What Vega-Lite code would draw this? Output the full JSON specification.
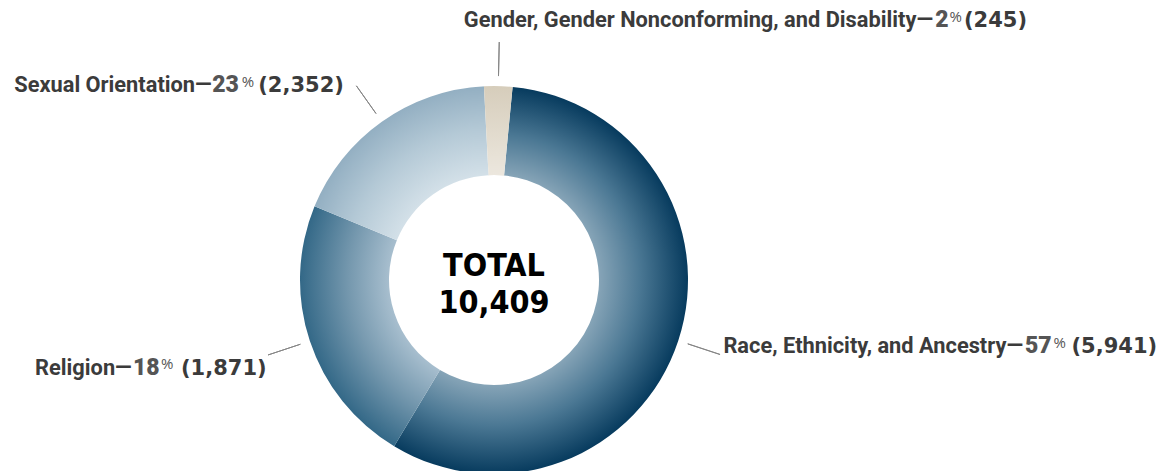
{
  "$schema": "https://vega.github.io/schema/vega-lite/v6.json",
  "width": 988,
  "height": 382,
  "autosize": {"type": "none"},
  "padding": {"left": 0, "top": 89, "right": 169, "bottom": 0},
  "background": "white",
  "config": {"view": {"stroke": null}},
  "data": {"values": [
    {"category": "Race, Ethnicity, and Ancestry", "count": 5941, "percent": 57},
    {"category": "Sexual Orientation", "count": 2352, "percent": 23},
    {"category": "Religion", "count": 1871, "percent": 18},
    {"category": "Gender, Gender Nonconforming, and Disability", "count": 245, "percent": 2}
  ]},
  "layer": [
    {
      "transform": [
        {"stack": "count", "groupby": [], "sort": [{"field": "count", "order": "descending"}], "offset": "normalize", "as": ["t0", "t1"]},
        {"filter": "datum.category === 'Race, Ethnicity, and Ancestry'"}
      ],
      "mark": {"type": "arc", "outerRadius": 194, "innerRadius": 105,
        "fill": {"gradient": "radial", "x1": 0.3783, "y1": 0.4988, "r1": 0, "x2": 0.3783, "y2": 0.4988, "r2": 0.5012,
          "stops": [{"offset": 0.541, "color": "#86a4b7"}, {"offset": 0.75, "color": "#4b7894"}, {"offset": 1, "color": "#073b5e"}]}},
      "encoding": {
        "theta": {"field": "t0", "type": "quantitative", "scale": {"domain": [0, 1], "range": [0.096, 6.379185]}},
        "theta2": {"field": "t1"}
      }
    },
    {
      "transform": [
        {"stack": "count", "groupby": [], "sort": [{"field": "count", "order": "descending"}], "offset": "normalize", "as": ["t0", "t1"]},
        {"filter": "datum.category === 'Sexual Orientation'"}
      ],
      "mark": {"type": "arc", "outerRadius": 194, "innerRadius": 105,
        "fill": {"gradient": "radial", "x1": 1.0167, "y1": 0.3071, "r1": 0, "x2": 1.0167, "y2": 0.3071, "r2": 0.8083,
          "stops": [{"offset": 0.541, "color": "#a7bece"}, {"offset": 0.75, "color": "#7598ae"}, {"offset": 1, "color": "#336887"}]}},
      "encoding": {
        "theta": {"field": "t0", "type": "quantitative", "scale": {"domain": [0, 1], "range": [0.096, 6.379185]}},
        "theta2": {"field": "t1"}
      }
    },
    {
      "transform": [
        {"stack": "count", "groupby": [], "sort": [{"field": "count", "order": "descending"}], "offset": "normalize", "as": ["t0", "t1"]},
        {"filter": "datum.category === 'Religion'"}
      ],
      "mark": {"type": "arc", "outerRadius": 194, "innerRadius": 105,
        "fill": {"gradient": "radial", "x1": 1.0313, "y1": 1.1711, "r1": 0, "x2": 1.0313, "y2": 1.1711, "r2": 1.1146,
          "stops": [{"offset": 0.541, "color": "#d3e0e8"}, {"offset": 0.78, "color": "#b4c9d6"}, {"offset": 1, "color": "#93afc2"}]}},
      "encoding": {
        "theta": {"field": "t0", "type": "quantitative", "scale": {"domain": [0, 1], "range": [0.096, 6.379185]}},
        "theta2": {"field": "t1"}
      }
    },
    {
      "transform": [
        {"stack": "count", "groupby": [], "sort": [{"field": "count", "order": "descending"}], "offset": "normalize", "as": ["t0", "t1"]},
        {"filter": "datum.category === 'Gender, Gender Nonconforming, and Disability'"}
      ],
      "mark": {"type": "arc", "outerRadius": 194, "innerRadius": 105,
        "fill": {"gradient": "radial", "x1": 0.4522, "y1": 2.1676, "r1": 0, "x2": 0.4522, "y2": 2.1676, "r2": 2.1676,
          "stops": [{"offset": 0.541, "color": "#ece7de"}, {"offset": 1, "color": "#d6cdbb"}]}},
      "encoding": {
        "theta": {"field": "t0", "type": "quantitative", "scale": {"domain": [0, 1], "range": [0.096, 6.379185]}},
        "theta2": {"field": "t1"}
      }
    },
    {
      "transform": [
        {"stack": "count", "groupby": [], "sort": [{"field": "count", "order": "descending"}], "offset": "normalize", "as": ["t0", "t1"]},
        {"calculate": "(datum.t0 + datum.t1) / 2", "as": "tm"}
      ],
      "mark": {"type": "arc", "outerRadius": 238, "innerRadius": 204, "filled": false, "stroke": "#858585", "strokeWidth": 1},
      "encoding": {
        "theta": {"field": "tm", "type": "quantitative", "scale": {"domain": [0, 1], "range": [0.096, 6.379185]}},
        "theta2": {"field": "tm"}
      }
    },

    {
      "transform": [
        {"stack": "count", "groupby": [], "sort": [{"field": "category", "order": "ascending"}], "offset": "normalize", "as": ["a0", "a1"]},
        {"calculate": "(datum.a0 + datum.a1) / 2", "as": "am"},
        {"calculate": "datum.category + '—'", "as": "nameLabel"},
        {"filter": "datum.category === 'Race, Ethnicity, and Ancestry'"}
      ],
      "mark": {"type": "text", "radius": 240, "align": "right", "baseline": "alphabetic", "dx": 314.6, "dy": -34.6, "font": "Roboto", "fontWeight": "bold", "fontSize": 21.8, "color": "#3b3b3b"},
      "encoding": {
        "theta": {"field": "am", "type": "quantitative", "scale": {"domain": [0, 1], "range": [0.096, 6.379185]}},
        "text": {"field": "nameLabel"}
      }
    },
    {
      "transform": [
        {"stack": "count", "groupby": [], "sort": [{"field": "category", "order": "ascending"}], "offset": "normalize", "as": ["a0", "a1"]},
        {"calculate": "(datum.a0 + datum.a1) / 2", "as": "am"},
        {"filter": "datum.category === 'Race, Ethnicity, and Ancestry'"}
      ],
      "mark": {"type": "text", "radius": 240, "align": "left", "baseline": "alphabetic", "dx": 316.6, "dy": -34.6, "font": "Roboto", "fontWeight": 900, "fontSize": 23, "color": "#555555"},
      "encoding": {
        "theta": {"field": "am", "type": "quantitative", "scale": {"domain": [0, 1], "range": [0.096, 6.379185]}},
        "text": {"field": "percent", "type": "quantitative"}
      }
    },
    {
      "transform": [
        {"stack": "count", "groupby": [], "sort": [{"field": "category", "order": "ascending"}], "offset": "normalize", "as": ["a0", "a1"]},
        {"calculate": "(datum.a0 + datum.a1) / 2", "as": "am"},
        {"filter": "datum.category === 'Race, Ethnicity, and Ancestry'"}
      ],
      "mark": {"type": "text", "text": "%", "radius": 240, "align": "left", "baseline": "alphabetic", "dx": 345.1, "dy": -40.3, "font": "Open Sans", "fontSize": 15, "color": "#555555"},
      "encoding": {
        "theta": {"field": "am", "type": "quantitative", "scale": {"domain": [0, 1], "range": [0.096, 6.379185]}}
      }
    },
    {
      "transform": [
        {"stack": "count", "groupby": [], "sort": [{"field": "category", "order": "ascending"}], "offset": "normalize", "as": ["a0", "a1"]},
        {"calculate": "(datum.a0 + datum.a1) / 2", "as": "am"},
        {"calculate": "'(' + format(datum.count, ',') + ')'", "as": "countLabel"},
        {"filter": "datum.category === 'Race, Ethnicity, and Ancestry'"}
      ],
      "mark": {"type": "text", "radius": 240, "align": "left", "baseline": "alphabetic", "dx": 363.1, "dy": -34.6, "font": "DejaVu Sans", "fontWeight": "bold", "fontSize": 21, "color": "#3b3b3b"},
      "encoding": {
        "theta": {"field": "am", "type": "quantitative", "scale": {"domain": [0, 1], "range": [0.096, 6.379185]}},
        "text": {"field": "countLabel"}
      }
    },

    {
      "transform": [
        {"stack": "count", "groupby": [], "sort": [{"field": "category", "order": "ascending"}], "offset": "normalize", "as": ["a0", "a1"]},
        {"calculate": "(datum.a0 + datum.a1) / 2", "as": "am"},
        {"calculate": "datum.category + '—'", "as": "nameLabel"},
        {"filter": "datum.category === 'Religion'"}
      ],
      "mark": {"type": "text", "radius": 240, "align": "right", "baseline": "alphabetic", "dx": -134.3, "dy": 20, "font": "Roboto", "fontWeight": "bold", "fontSize": 21.8, "color": "#3b3b3b"},
      "encoding": {
        "theta": {"field": "am", "type": "quantitative", "scale": {"domain": [0, 1], "range": [0.096, 6.379185]}},
        "text": {"field": "nameLabel"}
      }
    },
    {
      "transform": [
        {"stack": "count", "groupby": [], "sort": [{"field": "category", "order": "ascending"}], "offset": "normalize", "as": ["a0", "a1"]},
        {"calculate": "(datum.a0 + datum.a1) / 2", "as": "am"},
        {"filter": "datum.category === 'Religion'"}
      ],
      "mark": {"type": "text", "radius": 240, "align": "left", "baseline": "alphabetic", "dx": -133, "dy": 20, "font": "Roboto", "fontWeight": 900, "fontSize": 23, "color": "#555555"},
      "encoding": {
        "theta": {"field": "am", "type": "quantitative", "scale": {"domain": [0, 1], "range": [0.096, 6.379185]}},
        "text": {"field": "percent", "type": "quantitative"}
      }
    },
    {
      "transform": [
        {"stack": "count", "groupby": [], "sort": [{"field": "category", "order": "ascending"}], "offset": "normalize", "as": ["a0", "a1"]},
        {"calculate": "(datum.a0 + datum.a1) / 2", "as": "am"},
        {"filter": "datum.category === 'Religion'"}
      ],
      "mark": {"type": "text", "text": "%", "radius": 240, "align": "left", "baseline": "alphabetic", "dx": -105, "dy": 13.6, "font": "Open Sans", "fontSize": 15, "color": "#555555"},
      "encoding": {
        "theta": {"field": "am", "type": "quantitative", "scale": {"domain": [0, 1], "range": [0.096, 6.379185]}}
      }
    },
    {
      "transform": [
        {"stack": "count", "groupby": [], "sort": [{"field": "category", "order": "ascending"}], "offset": "normalize", "as": ["a0", "a1"]},
        {"calculate": "(datum.a0 + datum.a1) / 2", "as": "am"},
        {"calculate": "'(' + format(datum.count, ',') + ')'", "as": "countLabel"},
        {"filter": "datum.category === 'Religion'"}
      ],
      "mark": {"type": "text", "radius": 240, "align": "left", "baseline": "alphabetic", "dx": -85, "dy": 20, "font": "DejaVu Sans", "fontWeight": "bold", "fontSize": 21, "color": "#3b3b3b"},
      "encoding": {
        "theta": {"field": "am", "type": "quantitative", "scale": {"domain": [0, 1], "range": [0.096, 6.379185]}},
        "text": {"field": "countLabel"}
      }
    },

    {
      "transform": [
        {"stack": "count", "groupby": [], "sort": [{"field": "category", "order": "ascending"}], "offset": "normalize", "as": ["a0", "a1"]},
        {"calculate": "(datum.a0 + datum.a1) / 2", "as": "am"},
        {"calculate": "datum.category + '—'", "as": "nameLabel"},
        {"filter": "datum.category === 'Sexual Orientation'"}
      ],
      "mark": {"type": "text", "radius": 240, "align": "right", "baseline": "alphabetic", "dx": -144.1, "dy": 8.2, "font": "Roboto", "fontWeight": "bold", "fontSize": 21.8, "color": "#3b3b3b"},
      "encoding": {
        "theta": {"field": "am", "type": "quantitative", "scale": {"domain": [0, 1], "range": [0.096, 6.379185]}},
        "text": {"field": "nameLabel"}
      }
    },
    {
      "transform": [
        {"stack": "count", "groupby": [], "sort": [{"field": "category", "order": "ascending"}], "offset": "normalize", "as": ["a0", "a1"]},
        {"calculate": "(datum.a0 + datum.a1) / 2", "as": "am"},
        {"filter": "datum.category === 'Sexual Orientation'"}
      ],
      "mark": {"type": "text", "radius": 240, "align": "left", "baseline": "alphabetic", "dx": -143.6, "dy": 8.2, "font": "Roboto", "fontWeight": 900, "fontSize": 23, "color": "#555555"},
      "encoding": {
        "theta": {"field": "am", "type": "quantitative", "scale": {"domain": [0, 1], "range": [0.096, 6.379185]}},
        "text": {"field": "percent", "type": "quantitative"}
      }
    },
    {
      "transform": [
        {"stack": "count", "groupby": [], "sort": [{"field": "category", "order": "ascending"}], "offset": "normalize", "as": ["a0", "a1"]},
        {"calculate": "(datum.a0 + datum.a1) / 2", "as": "am"},
        {"filter": "datum.category === 'Sexual Orientation'"}
      ],
      "mark": {"type": "text", "text": "%", "radius": 240, "align": "left", "baseline": "alphabetic", "dx": -114.1, "dy": 3.2, "font": "Open Sans", "fontSize": 15, "color": "#555555"},
      "encoding": {
        "theta": {"field": "am", "type": "quantitative", "scale": {"domain": [0, 1], "range": [0.096, 6.379185]}}
      }
    },
    {
      "transform": [
        {"stack": "count", "groupby": [], "sort": [{"field": "category", "order": "ascending"}], "offset": "normalize", "as": ["a0", "a1"]},
        {"calculate": "(datum.a0 + datum.a1) / 2", "as": "am"},
        {"calculate": "'(' + format(datum.count, ',') + ')'", "as": "countLabel"},
        {"filter": "datum.category === 'Sexual Orientation'"}
      ],
      "mark": {"type": "text", "radius": 240, "align": "left", "baseline": "alphabetic", "dx": -97.5, "dy": 8.2, "font": "DejaVu Sans", "fontWeight": "bold", "fontSize": 21, "color": "#3b3b3b"},
      "encoding": {
        "theta": {"field": "am", "type": "quantitative", "scale": {"domain": [0, 1], "range": [0.096, 6.379185]}},
        "text": {"field": "countLabel"}
      }
    },

    {
      "transform": [
        {"stack": "count", "groupby": [], "sort": [{"field": "category", "order": "ascending"}], "offset": "normalize", "as": ["a0", "a1"]},
        {"calculate": "(datum.a0 + datum.a1) / 2", "as": "am"},
        {"calculate": "datum.category + '—'", "as": "nameLabel"},
        {"filter": "datum.category === 'Gender, Gender Nonconforming, and Disability'"}
      ],
      "mark": {"type": "text", "radius": 240, "align": "right", "baseline": "alphabetic", "dx": 398.4, "dy": -16.2, "font": "Roboto", "fontWeight": "bold", "fontSize": 21.8, "color": "#3b3b3b"},
      "encoding": {
        "theta": {"field": "am", "type": "quantitative", "scale": {"domain": [0, 1], "range": [0.096, 6.379185]}},
        "text": {"field": "nameLabel"}
      }
    },
    {
      "transform": [
        {"stack": "count", "groupby": [], "sort": [{"field": "category", "order": "ascending"}], "offset": "normalize", "as": ["a0", "a1"]},
        {"calculate": "(datum.a0 + datum.a1) / 2", "as": "am"},
        {"filter": "datum.category === 'Gender, Gender Nonconforming, and Disability'"}
      ],
      "mark": {"type": "text", "radius": 240, "align": "left", "baseline": "alphabetic", "dx": 400.6, "dy": -16.2, "font": "Roboto", "fontWeight": 900, "fontSize": 23, "color": "#555555"},
      "encoding": {
        "theta": {"field": "am", "type": "quantitative", "scale": {"domain": [0, 1], "range": [0.096, 6.379185]}},
        "text": {"field": "percent", "type": "quantitative"}
      }
    },
    {
      "transform": [
        {"stack": "count", "groupby": [], "sort": [{"field": "category", "order": "ascending"}], "offset": "normalize", "as": ["a0", "a1"]},
        {"calculate": "(datum.a0 + datum.a1) / 2", "as": "am"},
        {"filter": "datum.category === 'Gender, Gender Nonconforming, and Disability'"}
      ],
      "mark": {"type": "text", "text": "%", "radius": 240, "align": "left", "baseline": "alphabetic", "dx": 414.9, "dy": -21.5, "font": "Open Sans", "fontSize": 15, "color": "#555555"},
      "encoding": {
        "theta": {"field": "am", "type": "quantitative", "scale": {"domain": [0, 1], "range": [0.096, 6.379185]}}
      }
    },
    {
      "transform": [
        {"stack": "count", "groupby": [], "sort": [{"field": "category", "order": "ascending"}], "offset": "normalize", "as": ["a0", "a1"]},
        {"calculate": "(datum.a0 + datum.a1) / 2", "as": "am"},
        {"calculate": "'(' + format(datum.count, ',') + ')'", "as": "countLabel"},
        {"filter": "datum.category === 'Gender, Gender Nonconforming, and Disability'"}
      ],
      "mark": {"type": "text", "radius": 240, "align": "left", "baseline": "alphabetic", "dx": 429.4, "dy": -16.2, "font": "DejaVu Sans", "fontWeight": "bold", "fontSize": 21, "color": "#3b3b3b"},
      "encoding": {
        "theta": {"field": "am", "type": "quantitative", "scale": {"domain": [0, 1], "range": [0.096, 6.379185]}},
        "text": {"field": "countLabel"}
      }
    },

    {
      "transform": [{"aggregate": [{"op": "sum", "field": "count", "as": "total"}]}],
      "mark": {"type": "text", "text": "TOTAL", "align": "center", "baseline": "alphabetic", "dy": -4, "font": "DejaVu Sans Condensed, Roboto", "fontWeight": "bold", "fontSize": 32, "color": "#000000"},
      "encoding": {}
    },
    {
      "transform": [{"aggregate": [{"op": "sum", "field": "count", "as": "total"}]}],
      "mark": {"type": "text", "align": "center", "baseline": "alphabetic", "dy": 33.3, "font": "DejaVu Sans Condensed, Roboto", "fontWeight": "bold", "fontSize": 32, "color": "#000000"},
      "encoding": {"text": {"field": "total", "type": "quantitative", "format": ","}}
    }
  ]
}
